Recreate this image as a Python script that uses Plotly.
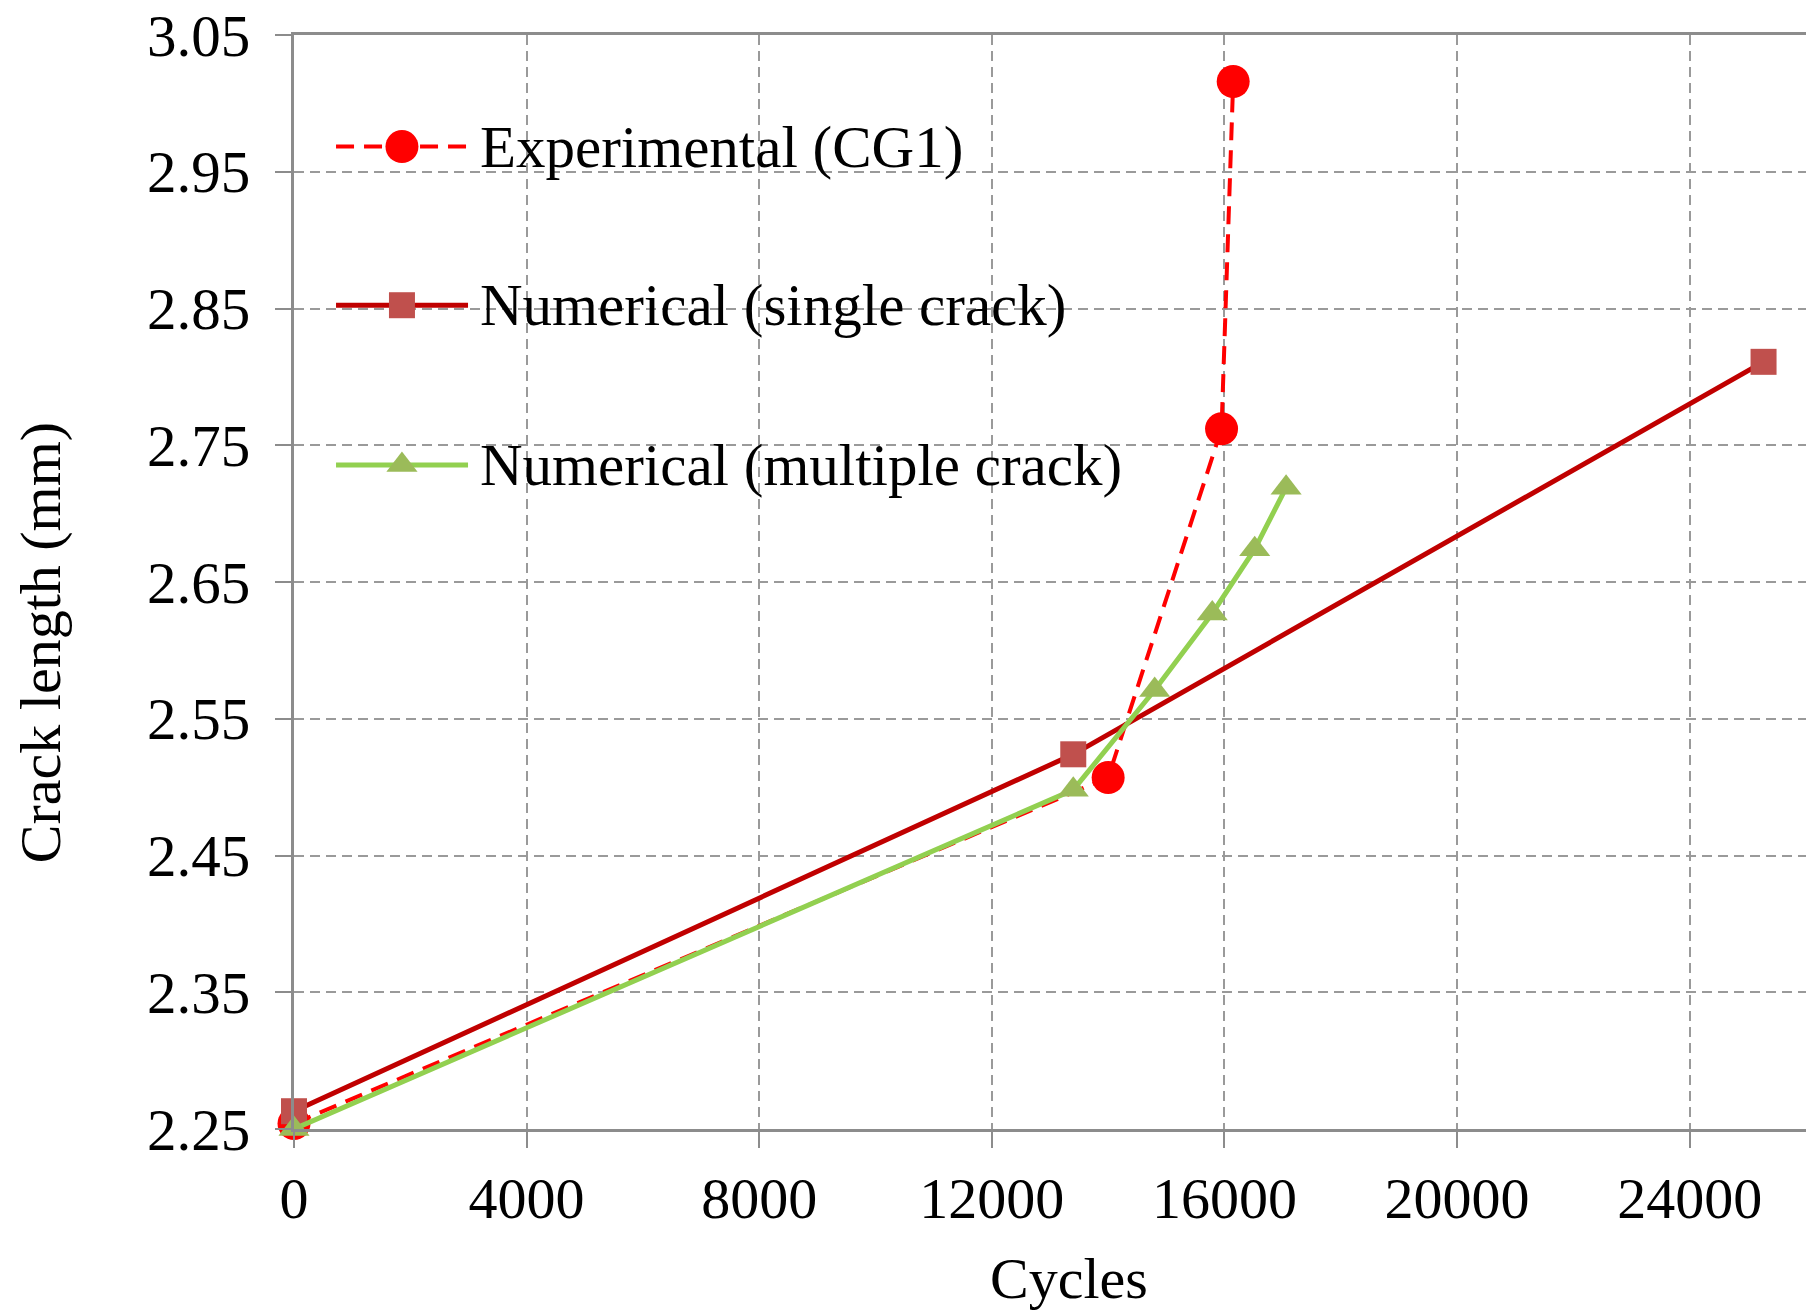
import plotly.graph_objects as go

# Crack length vs. number of cycles
exp_cycles = [0, 14000, 15950, 16150]
exp_length = [2.254, 2.507, 2.762, 3.016]

single_cycles = [0, 13400, 25270]
single_length = [2.263, 2.524, 2.811]

multi_cycles = [0, 13400, 14800, 15790, 16520, 17060]
multi_length = [2.25, 2.498, 2.571, 2.627, 2.674, 2.719]

series_names = ["Experimental (CG1)", "Numerical (single crack)", "Numerical (multiple crack)"]

x_ticks = [0, 4000, 8000, 12000, 16000, 20000, 24000]
y_ticks = [2.25, 2.35, 2.45, 2.55, 2.65, 2.75, 2.85, 2.95, 3.05]

FONT = "Liberation Serif"
FS = 58
RED = "#FF0000"
DARK_RED = "#C00000"
SQ_RED = "#C0504D"
GREEN_LINE = "#92D050"
GREEN_MARK = "#9BBB59"
AXIS_GRAY = "#8C8C8C"
GRID_GRAY = "#9A9A9A"

styles = [
    dict(line=dict(color=RED, width=4, dash="18px,10px"),
         marker=dict(symbol="circle", size=33, color=RED)),
    dict(line=dict(color=DARK_RED, width=5),
         marker=dict(symbol="square", size=26, color=SQ_RED)),
    dict(line=dict(color=GREEN_LINE, width=5),
         marker=dict(symbol="triangle-up", size=27, color=GREEN_MARK)),
]

fig = go.Figure()

for xs, ys, name, st in zip(
    [exp_cycles, single_cycles, multi_cycles],
    [exp_length, single_length, multi_length],
    series_names,
    styles,
):
    fig.add_trace(go.Scatter(
        x=xs, y=ys, name=name, mode="lines+markers",
        line=st["line"], marker=st["marker"],
        cliponaxis=False, showlegend=False,
    ))

# Hand-drawn legend on an overlay axis spanning the plot area (0..1 in both directions)
legend_y = [0.898, 0.753, 0.607]
sample_x0, sample_xm, sample_x1 = 0.0278, 0.0714, 0.1151
text_x = 0.1215
for name, st, ly in zip(series_names, styles, legend_y):
    fig.add_trace(go.Scatter(
        x=[sample_x0, sample_x1], y=[ly, ly], mode="lines",
        line=st["line"], xaxis="x2", yaxis="y2",
        showlegend=False, hoverinfo="skip",
    ))
    fig.add_trace(go.Scatter(
        x=[sample_xm], y=[ly], mode="markers",
        marker=st["marker"], xaxis="x2", yaxis="y2",
        showlegend=False, hoverinfo="skip",
    ))
    fig.add_annotation(
        text=name, x=text_x, y=ly, xref="x2", yref="y2",
        xanchor="left", yanchor="middle", showarrow=False,
        font=dict(family=FONT, size=59, color="black"),
    )

# Axis titles
fig.add_annotation(
    text="Cycles", x=0.5126, y=-0.137, xref="paper", yref="paper",
    xanchor="center", yanchor="middle", showarrow=False,
    font=dict(family=FONT, size=FS, color="black"),
)
fig.add_annotation(
    text="Crack length (mm)", x=-0.168, y=0.445, xref="paper", yref="paper",
    xanchor="center", yanchor="middle", textangle=-90, showarrow=False,
    font=dict(family=FONT, size=FS, color="black"),
)

fig.update_layout(
    width=1806, height=1315,
    margin=dict(l=294, r=0, t=35, b=186),
    paper_bgcolor="white", plot_bgcolor="white",
    font=dict(family=FONT, size=FS, color="black"),
    xaxis=dict(
        range=[0, 26000], tickvals=x_ticks, ticktext=[str(v) for v in x_ticks],
        showline=True, linecolor=AXIS_GRAY, linewidth=3, mirror=True,
        ticks="outside", ticklen=16, tickwidth=2, tickcolor=AXIS_GRAY,
        showgrid=True, gridcolor=GRID_GRAY, gridwidth=2, griddash="10px,6px",
        zeroline=False, tickfont=dict(family=FONT, size=FS, color="black"),
    ),
    yaxis=dict(
        range=[2.25, 3.05], tickvals=y_ticks, ticktext=[f"{v:.2f}" for v in y_ticks],
        showline=True, linecolor=AXIS_GRAY, linewidth=3,
        ticks="outside", ticklen=16, tickwidth=2, tickcolor=AXIS_GRAY,
        ticklabelstandoff=13,
        showgrid=True, gridcolor=GRID_GRAY, gridwidth=2, griddash="10px,6px",
        zeroline=False, tickfont=dict(family=FONT, size=59, color="black"),
    ),
    xaxis2=dict(range=[0, 1], overlaying="x", visible=False, fixedrange=True),
    yaxis2=dict(range=[0, 1], overlaying="y", visible=False, fixedrange=True),
)

fig.write_html("out.html")
